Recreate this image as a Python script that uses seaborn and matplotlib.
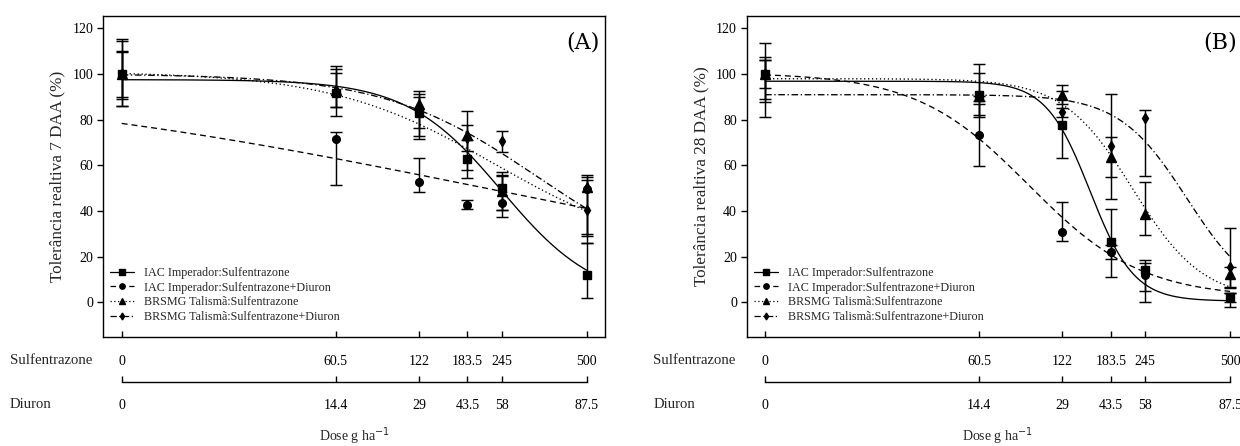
import numpy as np
import pandas as pd
import matplotlib
matplotlib.use("Agg")
import matplotlib.pyplot as plt
from matplotlib.lines import Line2D
import seaborn as sns

# ---- doses (g ha-1) ----
sulfentrazone_dose = [0, 60.5, 122, 183.5, 245, 500]
diuron_dose = [0, 14.4, 29, 43.5, 58, 87.5]
sulfentrazone_labels = ["0", "60.5", "122", "183.5", "245", "500"]
diuron_labels = ["0", "14.4", "29", "43.5", "58", "87.5"]

series_labels = [
    "IAC Imperador:Sulfentrazone",
    "IAC Imperador:Sulfentrazone+Diuron",
    "BRSMG Talismã:Sulfentrazone",
    "BRSMG Talismã:Sulfentrazone+Diuron",
]

# ---- 7 DAA: means and error limits (below / above the mean) ----
a_iac_s = [100, 91.7, 82.9, 62.7, 50.0, 12.0]
a_iac_s_lo = [14.2, 10.0, 10.3, 8.3, 9.5, 10.0]
a_iac_s_hi = [15.5, 10.5, 8.3, 8.3, 5.8, 13.9]

a_iac_sd = [100, 71.5, 52.6, 42.7, 43.4, 49.5]
a_iac_sd_lo = [13.9, 20.1, 4.4, 2.0, 3.0, 20.7]
a_iac_sd_hi = [14.3, 3.1, 10.6, 2.2, 11.7, 5.3]

a_brs_s = [100, 93.1, 86.8, 73.4, 48.5, 50.3]
a_brs_s_lo = [10.8, 7.7, 10.5, 15.4, 11.0, 20.5]
a_brs_s_hi = [9.6, 10.5, 5.9, 10.2, 8.4, 5.5]

a_brs_sd = [100, 92.5, 84.0, 72.0, 70.4, 40.2]
a_brs_sd_lo = [10.0, 7.0, 12.5, 5.9, 4.7, 14.3]
a_brs_sd_hi = [10.0, 7.9, 6.0, 5.8, 4.7, 13.4]

# ---- 28 DAA: means and error limits ----
b_iac_s = [100, 90.9, 77.8, 26.2, 14.2, 2.5]
b_iac_s_lo = [19.0, 8.8, 14.5, 15.2, 13.9, 4.4]
b_iac_s_hi = [13.6, 13.6, 14.5, 14.6, 4.1, 1.4]

b_iac_sd = [100, 73.1, 30.7, 21.9, 12.0, 2.0]
b_iac_sd_lo = [10.8, 13.6, 3.7, 3.0, 7.3, 2.0]
b_iac_sd_hi = [7.5, 13.6, 13.2, 3.0, 5.4, 2.0]

b_brs_s = [100, 90.5, 90.9, 63.6, 38.6, 12.5]
b_brs_s_lo = [12.3, 9.4, 4.0, 8.8, 9.1, 6.4]
b_brs_s_hi = [6.0, 9.9, 4.4, 8.6, 13.9, 3.0]

b_brs_sd = [100, 90.0, 83.2, 68.3, 80.7, 15.5]
b_brs_sd_lo = [6.0, 2.0, 2.0, 23.1, 25.6, 9.0]
b_brs_sd_hi = [6.0, 0.5, 2.0, 23.1, 3.3, 17.0]

# ---- fitted log-logistic curves: [b, c, d, e] ----
a_fit_iac_s = [2.5, 0.0, 97.5, 245.0]
a_fit_iac_sd = [0.42, 0.0, 100.0, 213.0]
a_fit_brs_s = [1.45, 20.0, 101.0, 231.0]
a_fit_brs_sd = [1.55, 10.0, 100.0, 330.0]

b_fit_iac_s = [5.4, 0.5, 96.8, 154.0]
b_fit_iac_sd = [2.1, 2.0, 100.5, 92.0]
b_fit_brs_s = [3.4, 1.0, 97.9, 221.0]
b_fit_brs_sd = [3.5, 0.0, 90.9, 348.0]

# the untreated control is placed one decade below the first dose on the log axis
ZERO_AT = 10.0


def ll4(x, p):
    b, c, d, e = p
    return c + (d - c) / (1.0 + np.exp(b * (np.log(x) - np.log(e))))


def plot_pos(doses):
    d = np.asarray(doses, dtype=float)
    return np.where(d == 0, ZERO_AT, d)


sns.set_theme(style="ticks")
plt.rcParams["font.family"] = ["Liberation Serif", "DejaVu Serif"]
plt.rcParams["font.size"] = 10
plt.rcParams["axes.linewidth"] = 1.0

W, H = 1240, 446
fig = plt.figure(figsize=(W / 100, H / 100), dpi=100)

styles = [
    dict(marker="s", ms=6.0, ls="-"),
    dict(marker="o", ms=5.5, ls=(0, (4.5, 3))),
    dict(marker="^", ms=6.5, ls=(0, (1, 2))),
    dict(marker="d", ms=5.0, ls=(0, (5, 2, 1, 2))),
]
draw_order = [1, 0, 2, 3]

panels = [
    dict(left=103.3, tag="(A)", tag_x=0.990, ylabel="Tolerância realtiva 7 DAA (%)",
         means=[a_iac_s, a_iac_sd, a_brs_s, a_brs_sd],
         lo=[a_iac_s_lo, a_iac_sd_lo, a_brs_s_lo, a_brs_sd_lo],
         hi=[a_iac_s_hi, a_iac_sd_hi, a_brs_s_hi, a_brs_sd_hi],
         fits=[a_fit_iac_s, a_fit_iac_sd, a_fit_brs_s, a_fit_brs_sd]),
    dict(left=746.7, tag="(B)", tag_x=0.978, ylabel="Tolerância realtiva 28 DAA (%)",
         means=[b_iac_s, b_iac_sd, b_brs_s, b_brs_sd],
         lo=[b_iac_s_lo, b_iac_sd_lo, b_brs_s_lo, b_brs_sd_lo],
         hi=[b_iac_s_hi, b_iac_sd_hi, b_brs_s_hi, b_brs_sd_hi],
         fits=[b_fit_iac_s, b_fit_iac_sd, b_fit_brs_s, b_fit_brs_sd]),
]

ax_w, ax_h = 501.7, 321.0
ax_top = 15.7
xpos = plot_pos(sulfentrazone_dose)
grid = np.logspace(np.log10(xpos.min()), np.log10(xpos.max()), 300)

for pnl in panels:
    ax = fig.add_axes([pnl["left"] / W, 1 - (ax_top + ax_h) / H, ax_w / W, ax_h / H])
    ax.set_xscale("log")

    # fitted curves
    for i in draw_order:
        curve = pd.DataFrame({"dose": grid, "tol": ll4(grid, pnl["fits"][i])})
        sns.lineplot(data=curve, x="dose", y="tol", ax=ax, color="black",
                     lw=0.95, linestyle=styles[i]["ls"], errorbar=None,
                     legend=False, sort=True)

    # observed means with error bars
    for i in draw_order:
        ax.errorbar(xpos, pnl["means"][i], yerr=[pnl["lo"][i], pnl["hi"][i]],
                    fmt=styles[i]["marker"], ms=styles[i]["ms"], color="black",
                    mec="black", mfc="black", ecolor="black", elinewidth=1.05,
                    capsize=4.6, capthick=1.05, ls="none", zorder=3)

    ax.set_xlim(8.566, 583.6)
    ax.set_ylim(-15.1, 125.5)
    ax.set_yticks([0, 20, 40, 60, 80, 100, 120])
    ax.xaxis.set_minor_locator(matplotlib.ticker.NullLocator())
    ax.set_xticks(xpos)
    ax.set_xticklabels(sulfentrazone_labels)
    ax.tick_params(axis="x", direction="in", length=4, width=1.0, pad=13,
                   colors="black", labelsize=10)
    ax.tick_params(axis="y", direction="out", length=4, width=1.0, pad=3,
                   colors="black", labelsize=10)
    for s in ax.spines.values():
        s.set_visible(True)
        s.set_color("black")
        s.set_linewidth(1.0)
    ax.set_xlabel("")
    ax.set_ylabel(pnl["ylabel"], fontsize=12.3, labelpad=5)

    # second dose row (Diuron)
    sec = ax.secondary_xaxis(-0.142)
    sec.set_xticks(xpos)
    sec.set_xticklabels(diuron_labels)
    sec.xaxis.set_minor_locator(matplotlib.ticker.NullLocator())
    sec.tick_params(axis="x", direction="in", length=4, width=1.0, pad=12,
                    colors="black", labelsize=10)
    sec.spines["bottom"].set_bounds(xpos.min(), xpos.max())
    sec.spines["bottom"].set_linewidth(1.0)
    sec.spines["bottom"].set_color("black")

    ax.text(pnl["tag_x"], 0.915, pnl["tag"], transform=ax.transAxes, ha="right",
            va="center", fontsize=16, family=["DejaVu Serif"], color="black")

    handles = [Line2D([], [], color="black", lw=0.9, linestyle=styles[i]["ls"],
                      marker=styles[i]["marker"], ms=styles[i]["ms"] * 0.7)
               for i in range(4)]
    ax.legend(handles, series_labels, loc="lower left",
              bbox_to_anchor=(0.014, 0.043), frameon=False, fontsize=8.7,
              handlelength=2.0, handletextpad=0.8, labelspacing=0.22,
              borderpad=0.0, borderaxespad=0.0)

    row_x = pnl["left"] - 93.3
    fig.text(row_x / W, 1 - 360 / H, "Sulfentrazone", ha="left", va="center",
             fontsize=10.6)
    fig.text(row_x / W, 1 - 404 / H, "Diuron", ha="left", va="center",
             fontsize=10.6)
    fig.text((pnl["left"] + ax_w / 2) / W, 1 - 441 / H, "Dose g ha$^{-1}$",
             ha="center", va="baseline", fontsize=10)

fig.savefig("out.png", dpi=100, facecolor="white")
